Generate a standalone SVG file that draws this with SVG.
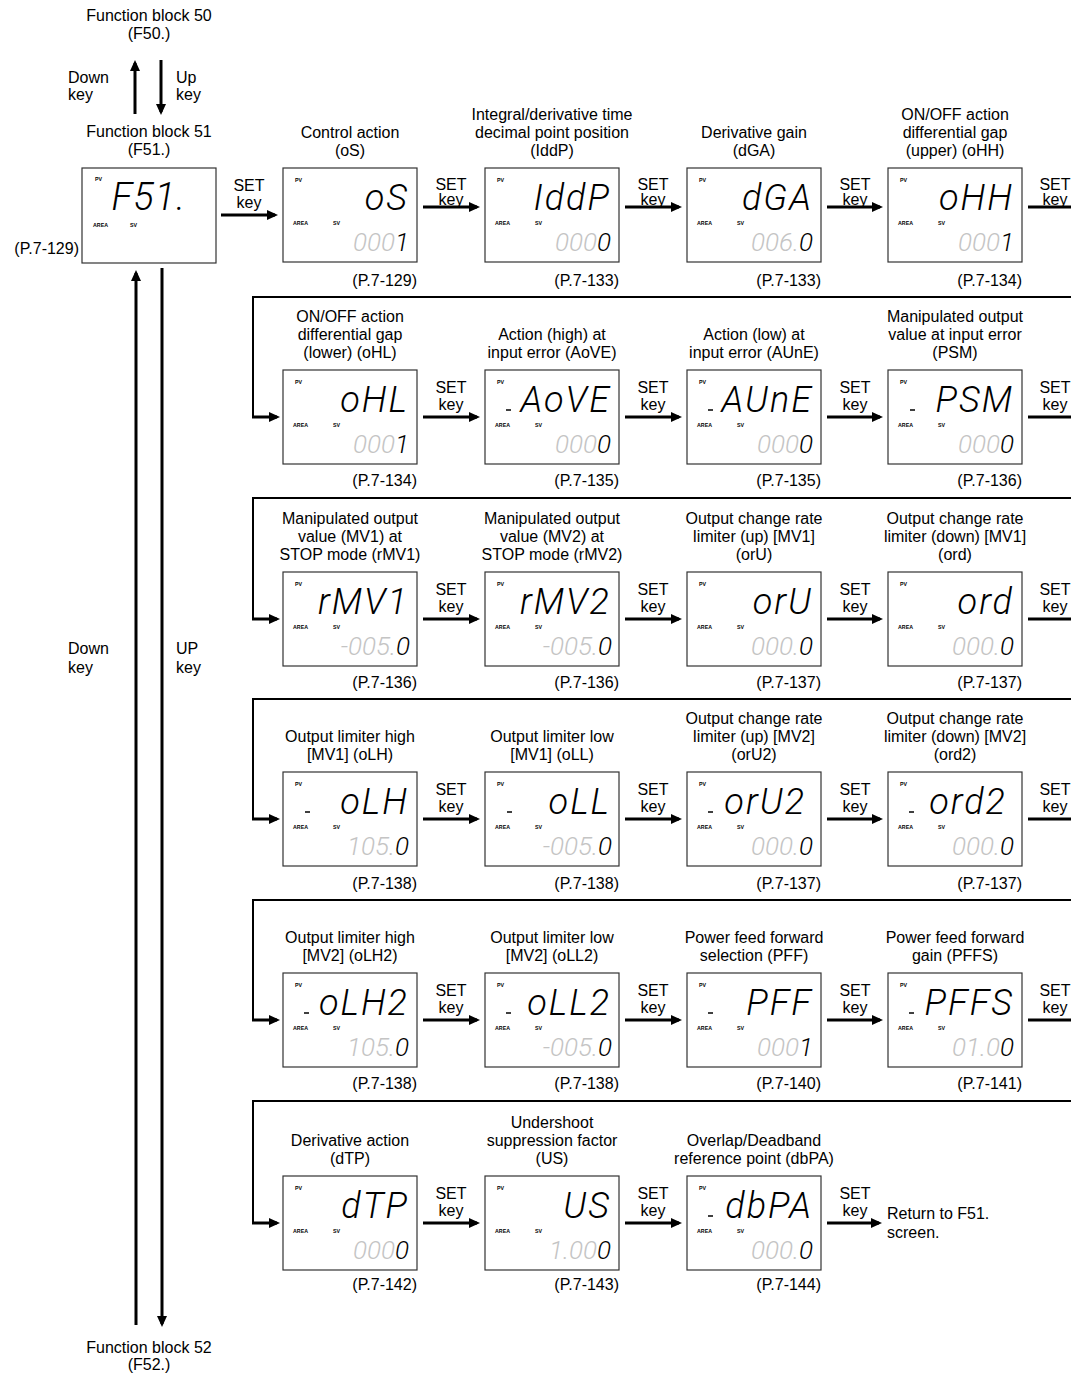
<svg xmlns="http://www.w3.org/2000/svg" width="1071" height="1378" viewBox="0 0 1071 1378">
<style>
text{font-family:"Liberation Sans",Arial,sans-serif;fill:#000}
.l{font-size:16px;text-anchor:middle}
.ls{font-size:16px;text-anchor:start}
.le{font-size:16px;text-anchor:end}
.box{fill:#fff;stroke:#333;stroke-width:1.2}
.t{font-size:5.3px;font-weight:bold}
.seg{font-family:Roboto,"DejaVu Sans",sans-serif;font-style:italic;font-weight:300;font-size:36px;letter-spacing:2px;text-anchor:end}
.sub{font-family:Roboto,"DejaVu Sans",sans-serif;font-style:italic;font-weight:300;font-size:26px;text-anchor:end}
.g{fill:#c4c4c4}
.k{fill:#000}
.ar{fill:none;stroke:#000;stroke-width:3;marker-end:url(#ah)}
.ln{fill:none;stroke:#000;stroke-width:3}
.sep{fill:none;stroke:#000;stroke-width:2}
.dash{stroke:#000;stroke-width:1.5}
</style>
<defs>
<marker id="ah" markerUnits="userSpaceOnUse" markerWidth="12" markerHeight="10" refX="8" refY="5" orient="auto"><path d="M0,0 L11,5 L0,10 z" fill="#000"/></marker>
</defs>

<g id="connectors">
<path class="ar" d="M135,114 V63"/>
<path class="ar" d="M161,60 V112"/>
<path class="ar" d="M136,1325 V273"/>
<path class="ar" d="M162,268 V1324"/>
<path class="ar" d="M221,215 H275"/>
<path class="ar" d="M423,207 H477"/>
<path class="ar" d="M625,207 H679"/>
<path class="ar" d="M827,207 H880"/>
<path class="ln" d="M1028,207 H1071"/>
<path class="sep" d="M1071,297 H253 V417"/>
<path class="ar" d="M252,417 H277"/>
<path class="ar" d="M423,417 H477"/>
<path class="ar" d="M625,417 H679"/>
<path class="ar" d="M827,417 H880"/>
<path class="ln" d="M1028,417 H1071"/>
<path class="sep" d="M1071,498 H253 V619"/>
<path class="ar" d="M252,619 H277"/>
<path class="ar" d="M423,619 H477"/>
<path class="ar" d="M625,619 H679"/>
<path class="ar" d="M827,619 H880"/>
<path class="ln" d="M1028,619 H1071"/>
<path class="sep" d="M1071,699 H253 V819"/>
<path class="ar" d="M252,819 H277"/>
<path class="ar" d="M423,819 H477"/>
<path class="ar" d="M625,819 H679"/>
<path class="ar" d="M827,819 H880"/>
<path class="ln" d="M1028,819 H1071"/>
<path class="sep" d="M1071,900 H253 V1020"/>
<path class="ar" d="M252,1020 H277"/>
<path class="ar" d="M423,1020 H477"/>
<path class="ar" d="M625,1020 H679"/>
<path class="ar" d="M827,1020 H880"/>
<path class="ln" d="M1028,1020 H1071"/>
<path class="sep" d="M1071,1101 H253 V1223"/>
<path class="ar" d="M252,1223 H277"/>
<path class="ar" d="M423,1223 H477"/>
<path class="ar" d="M625,1223 H679"/>
<path class="ar" d="M827,1223 H879"/>
</g>

<g id="key-labels">
<text class="l" x="149" y="21">Function block 50</text>
<text class="l" x="149" y="39">(F50.)</text>
<text class="ls" x="68" y="83">Down</text>
<text class="ls" x="68" y="100">key</text>
<text class="ls" x="176" y="83">Up</text>
<text class="ls" x="176" y="100">key</text>
<text class="ls" x="68" y="654">Down</text>
<text class="ls" x="68" y="673">key</text>
<text class="ls" x="176" y="654">UP</text>
<text class="ls" x="176" y="673">key</text>
<text class="l" x="149" y="1353">Function block 52</text>
<text class="l" x="149" y="1370">(F52.)</text>
<text class="l" x="249" y="191">SET</text><text class="l" x="249" y="208">key</text>
<text class="l" x="451" y="190">SET</text><text class="l" x="451" y="205">key</text>
<text class="l" x="653" y="190">SET</text><text class="l" x="653" y="205">key</text>
<text class="l" x="855" y="190">SET</text><text class="l" x="855" y="205">key</text>
<text class="l" x="1055" y="190">SET</text><text class="l" x="1055" y="205">key</text>
<text class="l" x="451" y="393">SET</text><text class="l" x="451" y="410">key</text>
<text class="l" x="653" y="393">SET</text><text class="l" x="653" y="410">key</text>
<text class="l" x="855" y="393">SET</text><text class="l" x="855" y="410">key</text>
<text class="l" x="1055" y="393">SET</text><text class="l" x="1055" y="410">key</text>
<text class="l" x="451" y="595">SET</text><text class="l" x="451" y="612">key</text>
<text class="l" x="653" y="595">SET</text><text class="l" x="653" y="612">key</text>
<text class="l" x="855" y="595">SET</text><text class="l" x="855" y="612">key</text>
<text class="l" x="1055" y="595">SET</text><text class="l" x="1055" y="612">key</text>
<text class="l" x="451" y="795">SET</text><text class="l" x="451" y="812">key</text>
<text class="l" x="653" y="795">SET</text><text class="l" x="653" y="812">key</text>
<text class="l" x="855" y="795">SET</text><text class="l" x="855" y="812">key</text>
<text class="l" x="1055" y="795">SET</text><text class="l" x="1055" y="812">key</text>
<text class="l" x="451" y="996">SET</text><text class="l" x="451" y="1013">key</text>
<text class="l" x="653" y="996">SET</text><text class="l" x="653" y="1013">key</text>
<text class="l" x="855" y="996">SET</text><text class="l" x="855" y="1013">key</text>
<text class="l" x="1055" y="996">SET</text><text class="l" x="1055" y="1013">key</text>
<text class="l" x="451" y="1199">SET</text><text class="l" x="451" y="1216">key</text>
<text class="l" x="653" y="1199">SET</text><text class="l" x="653" y="1216">key</text>
<text class="l" x="855" y="1199">SET</text><text class="l" x="855" y="1216">key</text>
<text class="ls" x="887" y="1219">Return to F51.</text>
<text class="ls" x="887" y="1238">screen.</text>
</g>

<g id="n-F51">
<text class="l" x="149" y="137">Function block 51</text>
<text class="l" x="149" y="155">(F51.)</text>
<rect class="box" x="82" y="168" width="134" height="95"/>
<text class="t" x="95" y="181">PV</text><text class="t" x="93" y="227">AREA</text><text class="t" x="130" y="227">SV</text>
<text class="seg" x="186" y="210" style="font-size:38px;letter-spacing:1px">F51.</text>
<text class="le" x="79" y="254">(P.7-129)</text>
</g>

<g id="n-oS">
<text class="l" x="350" y="138">Control action</text>
<text class="l" x="350" y="156">(oS)</text>
<rect class="box" x="283" y="168" width="134" height="94"/>
<text class="t" x="295" y="182">PV</text><text class="t" x="293" y="225">AREA</text><text class="t" x="333" y="225">SV</text>
<text class="seg" x="409" y="210">oS</text>
<text class="sub" x="409" y="251"><tspan class="g">000</tspan><tspan class="k">1</tspan></text>
<text class="le" x="417" y="286">(P.7-129)</text>
</g>

<g id="n-IddP">
<text class="l" x="552" y="120">Integral/derivative time</text>
<text class="l" x="552" y="138">decimal point position</text>
<text class="l" x="552" y="156">(IddP)</text>
<rect class="box" x="485" y="168" width="134" height="94"/>
<text class="t" x="497" y="182">PV</text><text class="t" x="495" y="225">AREA</text><text class="t" x="535" y="225">SV</text>
<text class="seg" x="611" y="210">IddP</text>
<text class="sub" x="611" y="251"><tspan class="g">000</tspan><tspan class="k">0</tspan></text>
<text class="le" x="619" y="286">(P.7-133)</text>
</g>

<g id="n-dGA">
<text class="l" x="754" y="138">Derivative gain</text>
<text class="l" x="754" y="156">(dGA)</text>
<rect class="box" x="687" y="168" width="134" height="94"/>
<text class="t" x="699" y="182">PV</text><text class="t" x="697" y="225">AREA</text><text class="t" x="737" y="225">SV</text>
<text class="seg" x="813" y="210">dGA</text>
<text class="sub" x="813" y="251"><tspan class="g">006.</tspan><tspan class="k">0</tspan></text>
<text class="le" x="821" y="286">(P.7-133)</text>
</g>

<g id="n-oHH">
<text class="l" x="955" y="120">ON/OFF action</text>
<text class="l" x="955" y="138">differential gap</text>
<text class="l" x="955" y="156">(upper) (oHH)</text>
<rect class="box" x="888" y="168" width="134" height="94"/>
<text class="t" x="900" y="182">PV</text><text class="t" x="898" y="225">AREA</text><text class="t" x="938" y="225">SV</text>
<text class="seg" x="1014" y="210">oHH</text>
<text class="sub" x="1014" y="251"><tspan class="g">000</tspan><tspan class="k">1</tspan></text>
<text class="le" x="1022" y="286">(P.7-134)</text>
</g>

<g id="n-oHL">
<text class="l" x="350" y="322">ON/OFF action</text>
<text class="l" x="350" y="340">differential gap</text>
<text class="l" x="350" y="358">(lower) (oHL)</text>
<rect class="box" x="283" y="370" width="134" height="94"/>
<text class="t" x="295" y="384">PV</text><text class="t" x="293" y="427">AREA</text><text class="t" x="333" y="427">SV</text>
<text class="seg" x="409" y="412">oHL</text>
<text class="sub" x="409" y="453"><tspan class="g">000</tspan><tspan class="k">1</tspan></text>
<text class="le" x="417" y="486">(P.7-134)</text>
</g>

<g id="n-AoVE">
<text class="l" x="552" y="340">Action (high) at</text>
<text class="l" x="552" y="358">input error (AoVE)</text>
<rect class="box" x="485" y="370" width="134" height="94"/>
<text class="t" x="497" y="384">PV</text><text class="t" x="495" y="427">AREA</text><text class="t" x="535" y="427">SV</text>
<line class="dash" x1="506" y1="410" x2="511" y2="410"/>
<text class="seg" x="611" y="412">AoVE</text>
<text class="sub" x="611" y="453"><tspan class="g">000</tspan><tspan class="k">0</tspan></text>
<text class="le" x="619" y="486">(P.7-135)</text>
</g>

<g id="n-AUnE">
<text class="l" x="754" y="340">Action (low) at</text>
<text class="l" x="754" y="358">input error (AUnE)</text>
<rect class="box" x="687" y="370" width="134" height="94"/>
<text class="t" x="699" y="384">PV</text><text class="t" x="697" y="427">AREA</text><text class="t" x="737" y="427">SV</text>
<line class="dash" x1="708" y1="410" x2="713" y2="410"/>
<text class="seg" x="813" y="412">AUnE</text>
<text class="sub" x="813" y="453"><tspan class="g">000</tspan><tspan class="k">0</tspan></text>
<text class="le" x="821" y="486">(P.7-135)</text>
</g>

<g id="n-PSM">
<text class="l" x="955" y="322">Manipulated output</text>
<text class="l" x="955" y="340">value at input error</text>
<text class="l" x="955" y="358">(PSM)</text>
<rect class="box" x="888" y="370" width="134" height="94"/>
<text class="t" x="900" y="384">PV</text><text class="t" x="898" y="427">AREA</text><text class="t" x="938" y="427">SV</text>
<line class="dash" x1="910" y1="410" x2="915" y2="410"/>
<text class="seg" x="1014" y="412">PSM</text>
<text class="sub" x="1014" y="453"><tspan class="g">000</tspan><tspan class="k">0</tspan></text>
<text class="le" x="1022" y="486">(P.7-136)</text>
</g>

<g id="n-rMV1">
<text class="l" x="350" y="524">Manipulated output</text>
<text class="l" x="350" y="542">value (MV1) at</text>
<text class="l" x="350" y="560">STOP mode (rMV1)</text>
<rect class="box" x="283" y="572" width="134" height="94"/>
<text class="t" x="295" y="586">PV</text><text class="t" x="293" y="629">AREA</text><text class="t" x="333" y="629">SV</text>
<text class="seg" x="409" y="614">rMV1</text>
<text class="sub" x="410" y="655"><tspan class="g">-005.</tspan><tspan class="k">0</tspan></text>
<text class="le" x="417" y="688">(P.7-136)</text>
</g>

<g id="n-rMV2">
<text class="l" x="552" y="524">Manipulated output</text>
<text class="l" x="552" y="542">value (MV2) at</text>
<text class="l" x="552" y="560">STOP mode (rMV2)</text>
<rect class="box" x="485" y="572" width="134" height="94"/>
<text class="t" x="497" y="586">PV</text><text class="t" x="495" y="629">AREA</text><text class="t" x="535" y="629">SV</text>
<text class="seg" x="611" y="614">rMV2</text>
<text class="sub" x="612" y="655"><tspan class="g">-005.</tspan><tspan class="k">0</tspan></text>
<text class="le" x="619" y="688">(P.7-136)</text>
</g>

<g id="n-orU">
<text class="l" x="754" y="524">Output change rate</text>
<text class="l" x="754" y="542">limiter (up) [MV1]</text>
<text class="l" x="754" y="560">(orU)</text>
<rect class="box" x="687" y="572" width="134" height="94"/>
<text class="t" x="699" y="586">PV</text><text class="t" x="697" y="629">AREA</text><text class="t" x="737" y="629">SV</text>
<text class="seg" x="813" y="614">orU</text>
<text class="sub" x="813" y="655"><tspan class="g">000.</tspan><tspan class="k">0</tspan></text>
<text class="le" x="821" y="688">(P.7-137)</text>
</g>

<g id="n-ord">
<text class="l" x="955" y="524">Output change rate</text>
<text class="l" x="955" y="542">limiter (down) [MV1]</text>
<text class="l" x="955" y="560">(ord)</text>
<rect class="box" x="888" y="572" width="134" height="94"/>
<text class="t" x="900" y="586">PV</text><text class="t" x="898" y="629">AREA</text><text class="t" x="938" y="629">SV</text>
<text class="seg" x="1014" y="614">ord</text>
<text class="sub" x="1014" y="655"><tspan class="g">000.</tspan><tspan class="k">0</tspan></text>
<text class="le" x="1022" y="688">(P.7-137)</text>
</g>

<g id="n-oLH">
<text class="l" x="350" y="742">Output limiter high</text>
<text class="l" x="350" y="760">[MV1] (oLH)</text>
<rect class="box" x="283" y="772" width="134" height="94"/>
<text class="t" x="295" y="786">PV</text><text class="t" x="293" y="829">AREA</text><text class="t" x="333" y="829">SV</text>
<line class="dash" x1="305" y1="812" x2="310" y2="812"/>
<text class="seg" x="409" y="814">oLH</text>
<text class="sub" x="409" y="855"><tspan class="g">105.</tspan><tspan class="k">0</tspan></text>
<text class="le" x="417" y="889">(P.7-138)</text>
</g>

<g id="n-oLL">
<text class="l" x="552" y="742">Output limiter low</text>
<text class="l" x="552" y="760">[MV1] (oLL)</text>
<rect class="box" x="485" y="772" width="134" height="94"/>
<text class="t" x="497" y="786">PV</text><text class="t" x="495" y="829">AREA</text><text class="t" x="535" y="829">SV</text>
<line class="dash" x1="507" y1="812" x2="512" y2="812"/>
<text class="seg" x="611" y="814">oLL</text>
<text class="sub" x="612" y="855"><tspan class="g">-005.</tspan><tspan class="k">0</tspan></text>
<text class="le" x="619" y="889">(P.7-138)</text>
</g>

<g id="n-orU2">
<text class="l" x="754" y="724">Output change rate</text>
<text class="l" x="754" y="742">limiter (up) [MV2]</text>
<text class="l" x="754" y="760">(orU2)</text>
<rect class="box" x="687" y="772" width="134" height="94"/>
<text class="t" x="699" y="786">PV</text><text class="t" x="697" y="829">AREA</text><text class="t" x="737" y="829">SV</text>
<line class="dash" x1="708" y1="812" x2="713" y2="812"/>
<text class="seg" x="806" y="814">orU2</text>
<text class="sub" x="813" y="855"><tspan class="g">000.</tspan><tspan class="k">0</tspan></text>
<text class="le" x="821" y="889">(P.7-137)</text>
</g>

<g id="n-ord2">
<text class="l" x="955" y="724">Output change rate</text>
<text class="l" x="955" y="742">limiter (down) [MV2]</text>
<text class="l" x="955" y="760">(ord2)</text>
<rect class="box" x="888" y="772" width="134" height="94"/>
<text class="t" x="900" y="786">PV</text><text class="t" x="898" y="829">AREA</text><text class="t" x="938" y="829">SV</text>
<line class="dash" x1="909" y1="812" x2="914" y2="812"/>
<text class="seg" x="1007" y="814">ord2</text>
<text class="sub" x="1014" y="855"><tspan class="g">000.</tspan><tspan class="k">0</tspan></text>
<text class="le" x="1022" y="889">(P.7-137)</text>
</g>

<g id="n-oLH2">
<text class="l" x="350" y="943">Output limiter high</text>
<text class="l" x="350" y="961">[MV2] (oLH2)</text>
<rect class="box" x="283" y="973" width="134" height="94"/>
<text class="t" x="295" y="987">PV</text><text class="t" x="293" y="1030">AREA</text><text class="t" x="333" y="1030">SV</text>
<line class="dash" x1="304" y1="1013" x2="309" y2="1013"/>
<text class="seg" x="409" y="1015">oLH2</text>
<text class="sub" x="409" y="1056"><tspan class="g">105.</tspan><tspan class="k">0</tspan></text>
<text class="le" x="417" y="1089">(P.7-138)</text>
</g>

<g id="n-oLL2">
<text class="l" x="552" y="943">Output limiter low</text>
<text class="l" x="552" y="961">[MV2] (oLL2)</text>
<rect class="box" x="485" y="973" width="134" height="94"/>
<text class="t" x="497" y="987">PV</text><text class="t" x="495" y="1030">AREA</text><text class="t" x="535" y="1030">SV</text>
<line class="dash" x1="506" y1="1013" x2="511" y2="1013"/>
<text class="seg" x="611" y="1015">oLL2</text>
<text class="sub" x="612" y="1056"><tspan class="g">-005.</tspan><tspan class="k">0</tspan></text>
<text class="le" x="619" y="1089">(P.7-138)</text>
</g>

<g id="n-PFF">
<text class="l" x="754" y="943">Power feed forward</text>
<text class="l" x="754" y="961">selection (PFF)</text>
<rect class="box" x="687" y="973" width="134" height="94"/>
<text class="t" x="699" y="987">PV</text><text class="t" x="697" y="1030">AREA</text><text class="t" x="737" y="1030">SV</text>
<line class="dash" x1="708" y1="1013" x2="713" y2="1013"/>
<text class="seg" x="813" y="1015">PFF</text>
<text class="sub" x="813" y="1056"><tspan class="g">000</tspan><tspan class="k">1</tspan></text>
<text class="le" x="821" y="1089">(P.7-140)</text>
</g>

<g id="n-PFFS">
<text class="l" x="955" y="943">Power feed forward</text>
<text class="l" x="955" y="961">gain (PFFS)</text>
<rect class="box" x="888" y="973" width="134" height="94"/>
<text class="t" x="900" y="987">PV</text><text class="t" x="898" y="1030">AREA</text><text class="t" x="938" y="1030">SV</text>
<line class="dash" x1="909" y1="1013" x2="914" y2="1013"/>
<text class="seg" x="1014" y="1015">PFFS</text>
<text class="sub" x="1014" y="1056"><tspan class="g">01.0</tspan><tspan class="k">0</tspan></text>
<text class="le" x="1022" y="1089">(P.7-141)</text>
</g>

<g id="n-dTP">
<text class="l" x="350" y="1146">Derivative action</text>
<text class="l" x="350" y="1164">(dTP)</text>
<rect class="box" x="283" y="1176" width="134" height="94"/>
<text class="t" x="295" y="1190">PV</text><text class="t" x="293" y="1233">AREA</text><text class="t" x="333" y="1233">SV</text>
<text class="seg" x="409" y="1218">dTP</text>
<text class="sub" x="409" y="1259"><tspan class="g">000</tspan><tspan class="k">0</tspan></text>
<text class="le" x="417" y="1290">(P.7-142)</text>
</g>

<g id="n-US">
<text class="l" x="552" y="1128">Undershoot</text>
<text class="l" x="552" y="1146">suppression factor</text>
<text class="l" x="552" y="1164">(US)</text>
<rect class="box" x="485" y="1176" width="134" height="94"/>
<text class="t" x="497" y="1190">PV</text><text class="t" x="495" y="1233">AREA</text><text class="t" x="535" y="1233">SV</text>
<text class="seg" x="611" y="1218">US</text>
<text class="sub" x="611" y="1259"><tspan class="g">1.00</tspan><tspan class="k">0</tspan></text>
<text class="le" x="619" y="1290">(P.7-143)</text>
</g>

<g id="n-dbPA">
<text class="l" x="754" y="1146">Overlap/Deadband</text>
<text class="l" x="754" y="1164">reference point (dbPA)</text>
<rect class="box" x="687" y="1176" width="134" height="94"/>
<text class="t" x="699" y="1190">PV</text><text class="t" x="697" y="1233">AREA</text><text class="t" x="737" y="1233">SV</text>
<line class="dash" x1="708" y1="1216" x2="713" y2="1216"/>
<text class="seg" x="813" y="1218">dbPA</text>
<text class="sub" x="813" y="1259"><tspan class="g">000.</tspan><tspan class="k">0</tspan></text>
<text class="le" x="821" y="1290">(P.7-144)</text>
</g>
</svg>
